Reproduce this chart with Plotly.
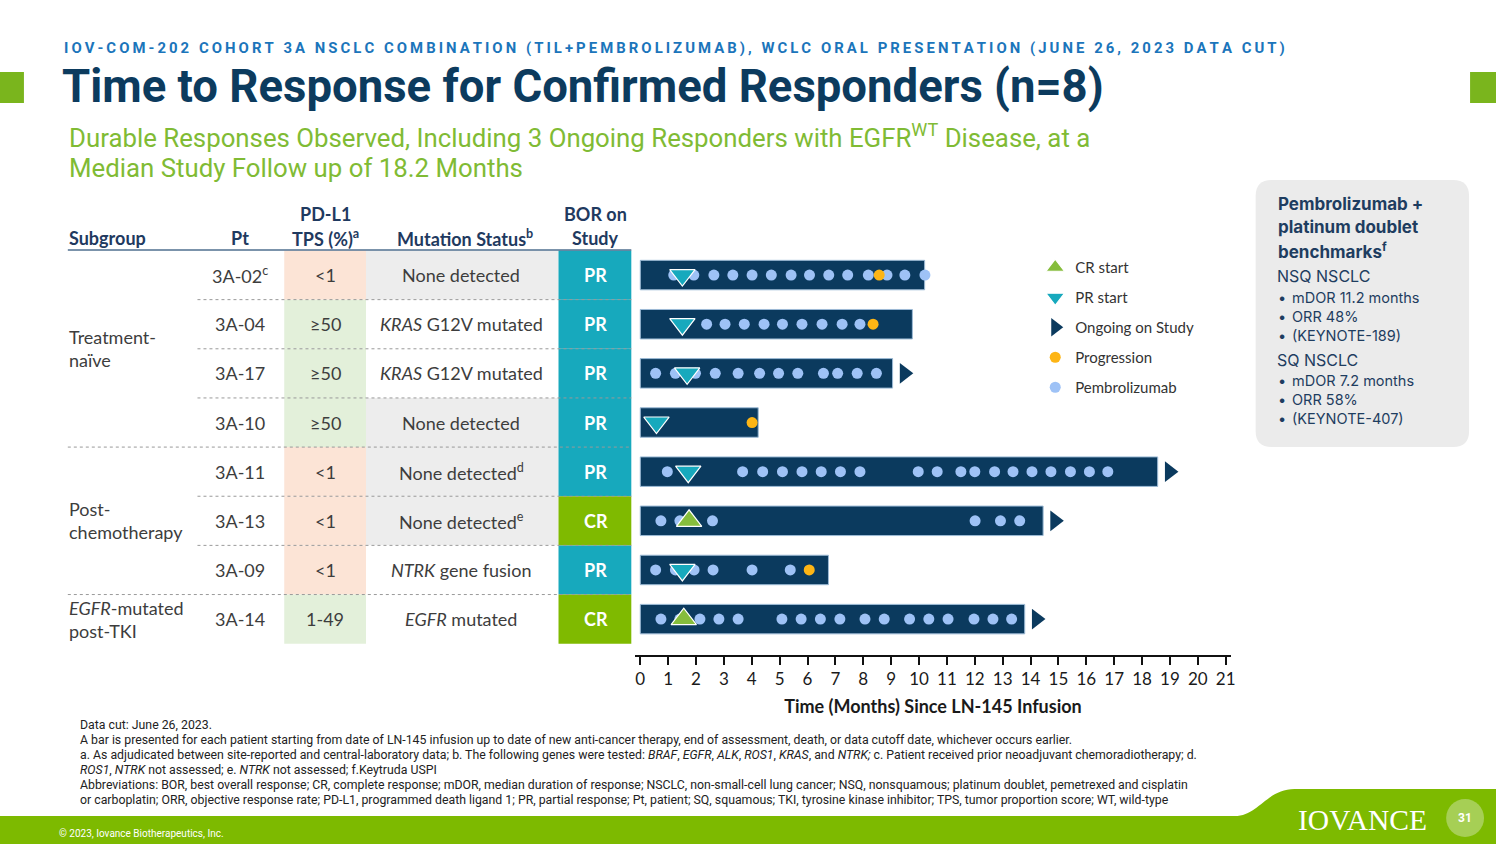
import plotly.graph_objects as go

W, H = 1500, 844


def px(x):
    return x / W


def py(y):
    return 1 - y / H


# ---------------- data ----------------
subgroups = ["Treatment-<br>naïve", "Post-<br>chemotherapy", "<i>EGFR</i>-mutated<br>post-TKI"]
subgroup_center_row = [1.5, 5, 7]
patients = ["3A-02<sup>c</sup>", "3A-04", "3A-17", "3A-10", "3A-11", "3A-13", "3A-09", "3A-14"]
pdl1_tps = ["&lt;1", "≥50", "≥50", "≥50", "&lt;1", "&lt;1", "&lt;1", "1-49"]
mutation_status = ["None detected", "<i>KRAS</i> G12V mutated", "<i>KRAS</i> G12V mutated",
                   "None detected", "None detected<sup>d</sup>", "None detected<sup>e</sup>",
                   "<i>NTRK</i> gene fusion", "<i>EGFR</i> mutated"]
mutation_none = [True, False, False, True, True, True, False, False]
bor = ["PR", "PR", "PR", "PR", "PR", "CR", "PR", "CR"]

duration = [10.2, 9.76, 9.05, 4.23, 18.56, 14.45, 6.75, 13.79]
ongoing = [False, False, True, False, True, True, False, True]
response_start = [1.51, 1.51, 1.68, 0.58, 1.72, 1.75, 1.51, 1.56]
progression = [8.57, 8.35, None, 4.01, None, None, 6.06, None]
pembrolizumab = [
    [1.20, 1.92, 2.64, 3.32, 4.01, 4.70, 5.41, 6.07, 6.76, 7.44, 8.18, 8.85, 9.49, 10.21],
    [2.38, 3.04, 3.73, 4.44, 5.10, 5.80, 6.52, 7.24, 7.88],
    [0.55, 1.26, 1.98, 2.69, 3.51, 4.28, 4.96, 5.65, 6.57, 7.08, 7.78, 8.47],
    [],
    [0.97, 3.67, 4.39, 5.10, 5.80, 6.49, 7.18, 7.88, 9.97, 10.65, 11.50, 12.00, 12.71,
     13.37, 14.05, 14.73, 15.43, 16.11, 16.77],
    [0.74, 1.42, 2.59, 12.01, 12.92, 13.61],
    [0.55, 1.26, 1.93, 2.61, 4.01, 5.38],
    [0.74, 1.42, 2.14, 2.82, 3.51, 5.08, 5.77, 6.46, 7.16, 8.06, 8.75, 9.66, 10.35, 11.04,
     11.97, 12.65, 13.32],
]
month_ticks = list(range(0, 22))

footnotes = [
    "Data cut: June 26, 2023.",
    "A bar is presented for each patient starting from date of LN-145 infusion up to date of new anti-cancer therapy, end of assessment, death, or data cutoff date, whichever occurs earlier.",
    "a. As adjudicated between site-reported and central-laboratory data; b. The following genes were tested: <i>BRAF</i>, <i>EGFR</i>, <i>ALK</i>, <i>ROS1</i>, <i>KRAS</i>, and <i>NTRK;</i> c. Patient received prior neoadjuvant chemoradiotherapy; d.",
    "<i>ROS1</i>, <i>NTRK</i> not assessed; e. <i>NTRK</i> not assessed; f.Keytruda USPI",
    "Abbreviations: BOR, best overall response; CR, complete response; mDOR, median duration of response; NSCLC, non-small-cell lung cancer; NSQ, nonsquamous; platinum doublet, pemetrexed and cisplatin",
    "or carboplatin; ORR, objective response rate; PD-L1, programmed death ligand 1; PR, partial response; Pt, patient; SQ, squamous; TKI, tyrosine kinase inhibitor; TPS, tumor proportion score; WT, wild-type",
]

# ---------------- styles ----------------
NAVY = "#0c3b5e"
BAR = "#0b3a5e"
TEAL = "#17a9bd"
GREEN = "#7fba00"
CRGREEN = "#86bd3c"
PEMBRO = "#9ec2f6"
ORANGE = "#fdb515"
TFONT = "Lato"

rows = list(range(len(patients)))

fig = go.Figure()

# bars
fig.add_trace(go.Bar(
    orientation="h", x=duration, y=rows, base=0, width=0.6,
    marker=dict(color=BAR, line=dict(color="#9dbbd6", width=1)),
    showlegend=False, hoverinfo="skip"))

# pembrolizumab doses
pem_x, pem_y = [], []
for r, doses in zip(rows, pembrolizumab):
    pem_x += doses
    pem_y += [r] * len(doses)
fig.add_trace(go.Scatter(
    x=pem_x, y=pem_y, mode="markers", name="Pembrolizumab",
    marker=dict(color=PEMBRO, size=11, line=dict(width=0)),
    legendgroup="pem", legendrank=5))

# progression
prog_x = [p for p in progression if p is not None]
prog_y = [r for r, p in zip(rows, progression) if p is not None]
fig.add_trace(go.Scatter(
    x=prog_x, y=prog_y, mode="markers", name="Progression",
    marker=dict(color=ORANGE, size=11, line=dict(width=0)),
    legendgroup="prog", legendrank=4))

# response starts
pr_x = [s for s, b in zip(response_start, bor) if b == "PR"]
pr_y = [r for r, b in zip(rows, bor) if b == "PR"]
cr_x = [s for s, b in zip(response_start, bor) if b == "CR"]
cr_y = [r for r, b in zip(rows, bor) if b == "CR"]
fig.add_trace(go.Scatter(
    x=pr_x, y=pr_y, mode="markers", name="PR start",
    marker=dict(symbol="triangle-down", color=TEAL, size=22, line=dict(color="white", width=1.2)),
    legendgroup="pr", legendrank=2))
fig.add_trace(go.Scatter(
    x=cr_x, y=cr_y, mode="markers", name="CR start",
    marker=dict(symbol="triangle-up", color=CRGREEN, size=22, line=dict(color="white", width=1.2)),
    legendgroup="cr", legendrank=1))

# ongoing arrows
on_x = [d + 0.42 for d, o in zip(duration, ongoing) if o]
on_y = [r for r, o in zip(rows, ongoing) if o]
fig.add_trace(go.Scatter(
    x=on_x, y=on_y, mode="markers", name="Ongoing on Study",
    marker=dict(symbol="triangle-right", color=BAR, size=18, line=dict(width=0)),
    legendgroup="on", legendrank=3))

# invisible trace to create the table subplot (x2, y)
fig.add_trace(go.Scatter(x=[0], y=[0], xaxis="x2", yaxis="y", mode="markers",
                         marker=dict(opacity=0), showlegend=False, hoverinfo="skip"))

shapes = []
annotations = []

# ---------------- table ----------------
COL_PT = 241
COL_PD = (285, 367)
COL_MU = (367, 560)
COL_BOR = (560, 633)
for r in rows:
    shapes.append(dict(type="rect", xref="x2", yref="y", x0=COL_PD[0], x1=COL_PD[1],
                       y0=r - 0.5, y1=r + 0.5, layer="below", line=dict(width=0),
                       fillcolor="#fce4d6" if pdl1_tps[r] == "&lt;1" else "#e3f0da"))
    shapes.append(dict(type="rect", xref="x2", yref="y", x0=COL_MU[0], x1=COL_MU[1],
                       y0=r - 0.5, y1=r + 0.5, layer="below", line=dict(width=0),
                       fillcolor="#ededed" if mutation_none[r] else "white"))
    shapes.append(dict(type="rect", xref="x2", yref="y", x0=COL_BOR[0], x1=COL_BOR[1],
                       y0=r - 0.5, y1=r + 0.5, layer="below", line=dict(width=0),
                       fillcolor=TEAL if bor[r] == "PR" else GREEN))
    annotations.append(dict(xref="x2", yref="y", x=COL_PT, y=r, text=patients[r], showarrow=False,
                            font=dict(family=TFONT, size=18, color="#3d3d3d")))
    annotations.append(dict(xref="x2", yref="y", x=sum(COL_PD) / 2, y=r, text=pdl1_tps[r], showarrow=False,
                            font=dict(family=TFONT, size=18, color="#3d3d3d")))
    annotations.append(dict(xref="x2", yref="y", x=sum(COL_MU) / 2 - 1, y=r, text=mutation_status[r],
                            showarrow=False, font=dict(family=TFONT, size=18, color="#3d3d3d")))
    annotations.append(dict(xref="x2", yref="y", x=sum(COL_BOR) / 2 + 1, y=r, text="<b>%s</b>" % bor[r],
                            showarrow=False, font=dict(family=TFONT, size=18, color="white")))

# separators
for r in rows[:-1]:
    group_edge = r in (3, 6)
    shapes.append(dict(type="line", xref="x2", yref="y", x0=68 if group_edge else 198, x1=633,
                       y0=r + 0.5, y1=r + 0.5, line=dict(color="#9a9a9a", width=1, dash="dot")))

for text, c in zip(subgroups, subgroup_center_row):
    annotations.append(dict(xref="x2", yref="y", x=67, y=c, xanchor="left", text=text, showarrow=False,
                            align="left", font=dict(family=TFONT, size=18, color="#3d3d3d")))

HFONT = dict(family=TFONT, size=18, color="#1f3a60")
headers = [
    (67, 238, "left", "<b>Subgroup</b>"),
    (241, 238, "center", "<b>Pt</b>"),
    (326, 214, "center", "<b>PD-L1</b>"),
    (326, 238, "center", "<b>TPS (%)<sup>a</sup></b>"),
    (466, 238, "center", "<b>Mutation Status<sup>b</sup></b>"),
    (597, 214, "center", "<b>BOR on</b>"),
    (597, 238, "center", "<b>Study</b>"),
]
for x, y, anc, t in headers:
    annotations.append(dict(xref="paper", yref="paper", x=px(x), y=py(y), xanchor=anc, yanchor="middle",
                            text=t, showarrow=False, font=HFONT))
shapes.append(dict(type="line", xref="paper", yref="paper", x0=px(68), x1=px(633), y0=py(250), y1=py(250),
                   line=dict(color="#4f6f8f", width=1.5)))

# ---------------- slide decoration ----------------
shapes.append(dict(type="rect", xref="paper", yref="paper", x0=px(0), x1=px(24), y0=py(103), y1=py(72),
                   fillcolor="#7ab51d", line=dict(width=0)))
shapes.append(dict(type="rect", xref="paper", yref="paper", x0=px(1474), x1=px(1500), y0=py(103), y1=py(72),
                   fillcolor="#7ab51d", line=dict(width=0)))

band = "M {0},{1} L {2},{1} C {3},{1} {4},{5} {6},{5} L {7},{5} L {7},{8} L {0},{8} Z".format(
    px(0), py(816), px(1238), px(1262), px(1270), py(789), px(1298), px(1500), py(844))
shapes.append(dict(type="path", xref="paper", yref="paper", path=band, fillcolor="#7dba00",
                   line=dict(width=0)))
shapes.append(dict(type="circle", xref="paper", yref="paper", x0=px(1450), x1=px(1488), y0=py(837), y1=py(799),
                   fillcolor="#a6cf55", line=dict(width=0)))

# benchmark box (rounded)
bx0, bx1, by0, by1, rad = 1259, 1473, 180, 447, 16
box = ("M {a},{t} L {b},{t} Q {R},{t} {R},{t2} L {R},{b2} Q {R},{B} {b},{B} L {a},{B} "
       "Q {L},{B} {L},{b2} L {L},{t2} Q {L},{t} {a},{t} Z").format(
    a=px(bx0 + rad), b=px(bx1 - rad), L=px(bx0), R=px(bx1), t=py(by0), B=py(by1),
    t2=py(by0 + rad), b2=py(by1 - rad))
shapes.append(dict(type="path", xref="paper", yref="paper", path=box, fillcolor="#ebebeb",
                   line=dict(width=0), layer="below"))

BOXC = "#1e3d60"
for y, t in [(204, "Pembrolizumab +"), (227, "platinum doublet"), (250, "benchmarks<sup>f</sup>")]:
    annotations.append(dict(xref="paper", yref="paper", x=px(1279), y=py(y), xanchor="left", yanchor="middle",
                            align="left", showarrow=False, text="<b>%s</b>" % t,
                            font=dict(family="Inter", size=17, color=BOXC)))
box_lines = [
    (276, "NSQ NSCLC", 16, False),
    (297, "mDOR 11.2 months", 14.5, True),
    (316, "ORR 48%", 14.5, True),
    (335, "(KEYNOTE-189)", 14.5, True),
    (360, "SQ NSCLC", 16, False),
    (380, "mDOR 7.2 months", 14.5, True),
    (399, "ORR 58%", 14.5, True),
    (418, "(KEYNOTE-407)", 14.5, True),
]
for y, t, s, bullet in box_lines:
    if bullet:
        annotations.append(dict(xref="paper", yref="paper", x=px(1279), y=py(y), xanchor="left",
                                yanchor="middle", text="•", showarrow=False,
                                font=dict(family="Inter", size=s, color=BOXC)))
        annotations.append(dict(xref="paper", yref="paper", x=px(1293), y=py(y), xanchor="left",
                                yanchor="middle", text=t, showarrow=False,
                                font=dict(family="Inter", size=s, color=BOXC)))
    else:
        annotations.append(dict(xref="paper", yref="paper", x=px(1278), y=py(y), xanchor="left",
                                yanchor="middle", text=t, showarrow=False,
                                font=dict(family="Inter", size=s, color=BOXC)))

# titles
superhead = "IOV-COM-202 COHORT 3A NSCLC COMBINATION (TIL+PEMBROLIZUMAB), WCLC ORAL PRESENTATION (JUNE 26, 2023 DATA CUT)"
spaced = "\u2009".join(list(superhead))
annotations.append(dict(xref="paper", yref="paper", x=px(62), y=py(48), xanchor="left", yanchor="middle",
                        text="<b>%s</b>" % spaced, showarrow=False,
                        font=dict(family="Roboto", size=14.9, color="#1b75bb")))
annotations.append(dict(xref="paper", yref="paper", x=px(60), y=py(86), xanchor="left", yanchor="middle",
                        text="<b>Time to Response for Confirmed Responders (n=8)</b>", showarrow=False,
                        font=dict(family="Roboto", size=45.5, color=NAVY)))
annotations.append(dict(xref="paper", yref="paper", x=px(67), y=py(136), xanchor="left", yanchor="middle",
                        text="Durable Responses Observed, Including 3 Ongoing Responders with EGFR<sup>WT</sup> Disease, at a",
                        showarrow=False, font=dict(family="Roboto", size=25.8, color="#80bb34")))
annotations.append(dict(xref="paper", yref="paper", x=px(67), y=py(168), xanchor="left", yanchor="middle",
                        text="Median Study Follow up of 18.2 Months",
                        showarrow=False, font=dict(family="Roboto", size=25.8, color="#80bb34")))

# footnotes
for i, t in enumerate(footnotes):
    annotations.append(dict(xref="paper", yref="paper", x=px(78), y=py(725 + 15 * i), xanchor="left",
                            yanchor="middle", text=t, showarrow=False,
                            font=dict(family="Roboto", size=12.3, color="#222222")))
annotations.append(dict(xref="paper", yref="paper", x=px(57), y=py(833), xanchor="left", yanchor="middle",
                        text="© 2023, Iovance Biotherapeutics, Inc.", showarrow=False,
                        font=dict(family="Roboto", size=10, color="white")))
annotations.append(dict(xref="paper", yref="paper", x=px(1366), y=py(820), xanchor="center", yanchor="middle",
                        text="IOVANCE", showarrow=False,
                        font=dict(family="Liberation Serif", size=29.5, color="white")))
annotations.append(dict(xref="paper", yref="paper", x=px(1469), y=py(818), xanchor="center", yanchor="middle",
                        text="<b>31</b>", showarrow=False,
                        font=dict(family="Roboto", size=12, color="white")))

# ---------------- axes / layout ----------------
x0_px, per_month = 642.0, (1229.0 - 642.0) / 21
xr = [-0.2, 21.2]
fig.update_layout(
    width=W, height=H, margin=dict(l=0, r=0, t=0, b=0),
    paper_bgcolor="white", plot_bgcolor="rgba(0,0,0,0)",
    bargap=0,
    xaxis=dict(domain=[px(x0_px + xr[0] * per_month), px(x0_px + xr[1] * per_month)], range=xr,
               anchor="y", tickmode="array", tickvals=month_ticks, ticktext=[str(t) for t in month_ticks],
               ticks="outside", ticklen=8, tickwidth=2, tickcolor="#111",
               showline=True, linewidth=2, linecolor="#111", showgrid=False, zeroline=False,
               tickfont=dict(family=TFONT, size=17, color="#1a1a1a"),
               title=dict(text="<b>Time (Months) Since LN-145 Infusion</b>", standoff=12,
                          font=dict(family=TFONT, size=18, color="#1a1a1a"))),
    yaxis=dict(domain=[py(655), py(250)], range=[7.73, -0.51], anchor="x", visible=False,
               showgrid=False, zeroline=False),
    xaxis2=dict(domain=[0, 1], range=[0, W], anchor="y", visible=False, showgrid=False, zeroline=False),
    legend=dict(x=px(1038), y=py(251), xanchor="left", yanchor="top", bgcolor="rgba(0,0,0,0)",
                font=dict(family=TFONT, size=15, color="#333"), tracegroupgap=7.5, itemwidth=30),
    shapes=shapes, annotations=annotations, showlegend=True,
)

fig.write_html("out.html", config={"displayModeBar": False, "staticPlot": True},
               post_script="document.body.style.margin='0px';document.body.style.overflow='hidden';")
